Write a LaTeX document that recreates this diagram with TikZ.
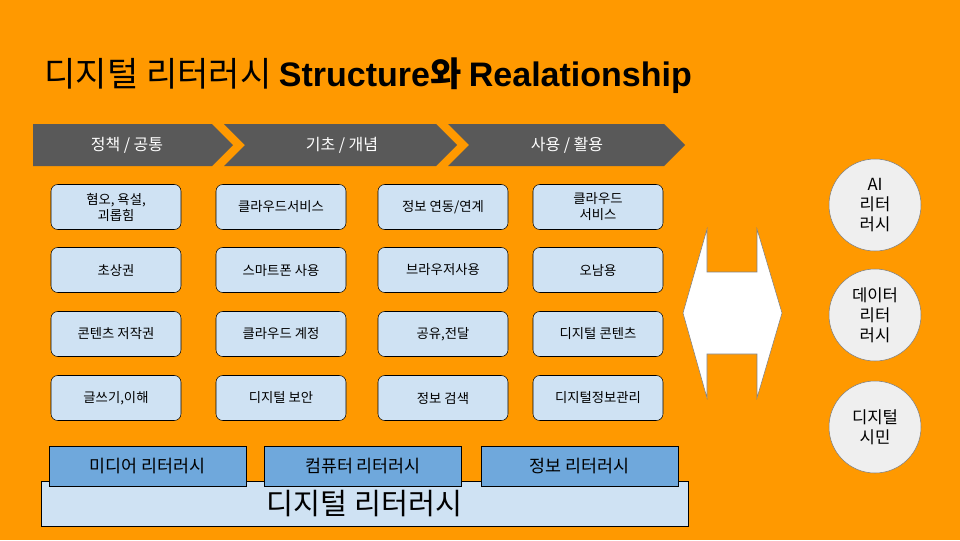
\documentclass[tikz,border=0pt]{standalone}
\usepackage{fontspec}
\setmainfont{Noto Sans CJK KR}
\newfontfamily\latinb{Liberation Sans}
\definecolor{bgor}{RGB}{255,153,0}
\definecolor{lblue}{RGB}{207,226,243}
\definecolor{mblue}{RGB}{111,168,220}
\definecolor{dgray}{RGB}{89,89,89}
\definecolor{cgray}{RGB}{239,239,239}
\begin{document}
\begin{tikzpicture}[x=0.75pt,y=-0.75pt,
  bx/.style={draw=black,fill=lblue,rounded corners=5pt,minimum width=97.5pt,minimum height=33.75pt,font=\fontsize{10}{12}\selectfont,align=center,inner sep=1pt},
  lit/.style={draw=black,fill=mblue,minimum width=148pt,minimum height=30pt,font=\fontsize{13}{15}\selectfont},
  circ/.style={circle,draw=gray,fill=cgray,minimum size=69pt,font=\fontsize{12.5}{15}\selectfont,align=center,inner sep=0pt},
  chev/.style={fill=dgray},
  ct/.style={text=white,font=\fontsize{12}{14}\selectfont}]
\fill[bgor] (0,0) rectangle (960,540);
\useasboundingbox (0,0) rectangle (960,540);
\node[anchor=west,font=\fontsize{25.5}{28}\selectfont] (title) at (40,76) {디지털 리터러시 {\latinb\bfseries Structure}\textbf{와} {\latinb\bfseries Realationship}};
% chevrons
\fill[chev] (33,124) -- (212,124) -- (233,145) -- (212,166) -- (33,166) -- cycle;
\fill[chev] (224,124) -- (436,124) -- (457,145) -- (436,166) -- (224,166) -- (245,145) -- cycle;
\fill[chev] (448,124) -- (664,124) -- (685,145) -- (664,166) -- (448,166) -- (469,145) -- cycle;
\node[ct] (c1) at (127,145) {정책 / 공통};
\node[ct] (c2) at (342,145) {기초 / 개념};
\node[ct] (c3) at (567,145) {사용 / 활용};
% boxes
\node[bx] (a1) at (116,207) {혐오, 욕설,\\괴롭힘};
\node[bx] (a2) at (116,270) {초상권};
\node[bx] (a3) at (116,334) {콘텐츠 저작권};
\node[bx] (a4) at (116,398) {글쓰기,이해};
\node[bx] (b1) at (281,207) {클라우드서비스};
\node[bx] (b2) at (281,270) {스마트폰 사용};
\node[bx] (b3) at (281,334) {클라우드 계정};
\node[bx] (b4) at (281,398) {디지털 보안};
\node[bx] (d1) at (443,207) {정보 연동/연계};
\node[bx] (d2) at (443,270) {브라우저사용};
\node[bx] (d3) at (443,334) {공유,전달};
\node[bx] (d4) at (443,398) {정보 검색};
\node[bx] (e1) at (598,207) {클라우드\\서비스};
\node[bx] (e2) at (598,270) {오남용};
\node[bx] (e3) at (598,334) {디지털 콘텐츠};
\node[bx] (e4) at (598,398) {디지털정보관리};
% bottom
\node[draw=black,fill=lblue,minimum width=485pt,minimum height=34pt,font=\fontsize{22}{26}\selectfont,inner sep=0pt] (dl) at (364.5,504) {디지털 리터러시};
\node[lit] (l1) at (147.5,466) {미디어 리터러시};
\node[lit] (l2) at (363,466) {컴퓨터 리터러시};
\node[lit] (l3) at (579.5,466) {정보 리터러시};
% double arrow
\draw[draw=gray,fill=white] (683,313) -- (707,229) -- (707,272) -- (757,272) -- (757,229) -- (782,313) -- (757,398) -- (757,354) -- (707,354) -- (707,398) -- cycle;
% circles
\node[circ] (k1) at (875,205) {AI\\리터\\러시};
\node[circ] (k2) at (875,315) {데이터\\리터\\러시};
\node[circ] (k3) at (875,427) {디지털\\시민};
\end{tikzpicture}
\end{document}
